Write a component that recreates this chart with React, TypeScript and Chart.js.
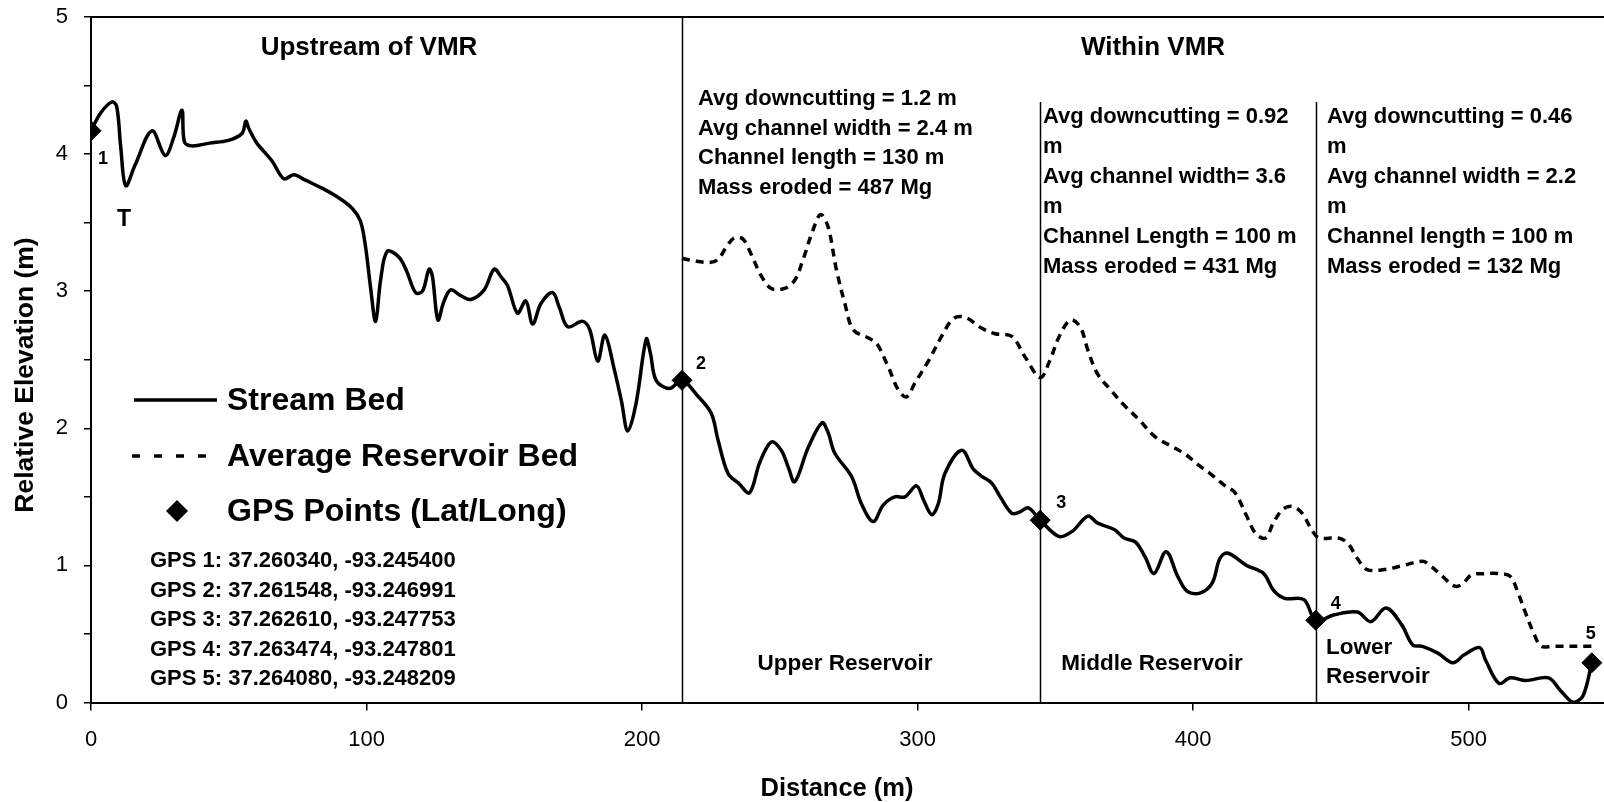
import React, { useEffect, useRef } from "react";
import { Chart, registerables } from "chart.js";

Chart.register(...registerables);

const FONT = "'Liberation Sans', Arial, sans-serif";

const streamX = [0, 3.5, 7.5, 9.3, 10.8, 12.6, 16, 22.1, 26.9, 30, 33, 33.9, 36.6, 43, 49.9, 54.8, 56.2, 57.2, 60.2, 65.7, 70, 73.6, 77.8, 84, 90, 95, 97.8, 99.6, 101.5, 103.3, 105.1, 107.5, 111.7, 114.5, 117.8, 120.3, 122.7, 123.9, 125.9, 128, 130.5, 134, 137.8, 142.7, 146.3, 149, 151.2, 154.8, 157.8, 160.3, 163.3, 167.5, 170, 173, 178.4, 181, 183.9, 186.5, 189.9, 192.5, 194.8, 197.8, 201.5, 203, 205.1, 209.9, 214.5, 220, 225.1, 227.5, 231.2, 235, 239, 242.7, 246.9, 250.5, 253, 255.4, 260.3, 265.3, 267.5, 269.9, 276, 279.6, 283.9, 287.5, 291.7, 295.4, 299.6, 302.1, 305.1, 307.5, 309.9, 316, 320.3, 323.3, 326.9, 330, 334.2, 337.2, 340.2, 344.5, 351.4, 356.2, 361.8, 365.2, 371.5, 374.9, 379.1, 382.6, 385.8, 390.2, 394.4, 397.9, 402.7, 406.9, 409.7, 412.4, 419.4, 425.6, 429.1, 433.2, 440.2, 444.5, 451.3, 459.6, 464.5, 470, 475.6, 479.7, 483.2, 488.8, 494.3, 498.5, 504, 506.1, 511, 515.1, 520.7, 529, 533.2, 538, 541.5, 544.7];
const streamY = [4.17, 4.3, 4.38, 4.35, 4.05, 3.77, 3.92, 4.17, 3.99, 4.12, 4.32, 4.09, 4.06, 4.08, 4.1, 4.15, 4.24, 4.19, 4.08, 3.95, 3.82, 3.85, 3.81, 3.75, 3.68, 3.6, 3.51, 3.33, 3.02, 2.78, 3.08, 3.29, 3.25, 3.15, 2.99, 3.0, 3.16, 3.11, 2.79, 2.92, 3.01, 2.97, 2.94, 3.01, 3.16, 3.1, 3.04, 2.84, 2.93, 2.76, 2.91, 2.99, 2.88, 2.74, 2.78, 2.72, 2.49, 2.68, 2.43, 2.2, 1.98, 2.18, 2.65, 2.55, 2.35, 2.29, 2.35, 2.24, 2.11, 1.92, 1.67, 1.6, 1.53, 1.75, 1.9, 1.84, 1.72, 1.61, 1.86, 2.04, 1.97, 1.82, 1.65, 1.45, 1.32, 1.44, 1.5, 1.5, 1.58, 1.48, 1.37, 1.45, 1.67, 1.84, 1.7, 1.65, 1.6, 1.5, 1.38, 1.39, 1.42, 1.33, 1.21, 1.25, 1.36, 1.31, 1.26, 1.2, 1.17, 1.06, 0.94, 1.1, 0.92, 0.81, 0.8, 0.87, 1.05, 1.09, 1.0, 0.94, 0.82, 0.76, 0.75, 0.6, 0.64, 0.66, 0.59, 0.69, 0.57, 0.42, 0.41, 0.36, 0.29, 0.35, 0.4, 0.31, 0.14, 0.18, 0.16, 0.18, 0.09, 0.0, 0.05, 0.29];

const reservoirX = [214.5, 219, 224.5, 227.5, 230.5, 233.5, 236.6, 239.6, 243.3, 246.9, 251.7, 255.4, 258.4, 262.1, 264.8, 267.5, 270.5, 273.6, 276.6, 282, 285.1, 289.3, 293, 296, 299, 303.9, 308.7, 313, 317.2, 323.3, 328.1, 334.2, 339, 344.5, 347.9, 351.4, 355.5, 359, 361.8, 365.2, 370.1, 374.9, 380.5, 386.1, 393, 397.2, 402.7, 406.2, 411, 415.2, 419.4, 422.8, 426.3, 429.1, 432.6, 436.1, 439.6, 443, 445.7, 452.7, 456.2, 459.6, 463.1, 469.4, 476.3, 483.2, 486, 490.5, 494.7, 497.5, 501, 505.8, 511, 515.1, 517.9, 520.7, 523.5, 526.3, 530.4, 544.9];
const reservoirY = [3.24, 3.22, 3.21, 3.23, 3.32, 3.39, 3.38, 3.27, 3.11, 3.02, 3.02, 3.08, 3.23, 3.45, 3.56, 3.47, 3.16, 2.91, 2.72, 2.66, 2.62, 2.45, 2.28, 2.23, 2.33, 2.49, 2.67, 2.8, 2.81, 2.73, 2.69, 2.67, 2.52, 2.37, 2.49, 2.67, 2.79, 2.74, 2.57, 2.4, 2.28, 2.17, 2.06, 1.94, 1.86, 1.81, 1.72, 1.67, 1.59, 1.53, 1.36, 1.23, 1.2, 1.31, 1.41, 1.43, 1.38, 1.26, 1.2, 1.2, 1.16, 1.05, 0.97, 0.97, 1.0, 1.03, 1.0, 0.92, 0.85, 0.86, 0.93, 0.94, 0.94, 0.92, 0.8, 0.65, 0.51, 0.41, 0.41, 0.41];

const gpsX = [0, 214.5, 344.5, 444.5, 544.7];
const gpsY = [4.17, 2.35, 1.33, 0.6, 0.29];
const gpsLabels = ["1", "2", "3", "4", "5"];

const dividerX = [214.5, 344.5, 444.5];
const dividerTop = [5, 4.38, 4.38];

const gpsCoords = [
  "GPS 1: 37.260340, -93.245400",
  "GPS 2: 37.261548, -93.246991",
  "GPS 3: 37.262610, -93.247753",
  "GPS 4: 37.263474, -93.247801",
  "GPS 5: 37.264080, -93.248209",
];

const block1 = ["Avg downcutting = 1.2 m", "Avg channel width = 2.4 m", "Channel length = 130 m", "Mass eroded = 487 Mg"];
const block2 = ["Avg downcutting = 0.92", "m", "Avg channel width= 3.6", "m", "Channel Length = 100 m", "Mass eroded = 431 Mg"];
const block3 = ["Avg downcutting = 0.46", "m", "Avg channel width = 2.2", "m", "Channel length = 100 m", "Mass eroded = 132 Mg"];

const zip = (xs: number[], ys: number[]) => xs.map((x, i) => ({ x, y: ys[i] }));

const overlay = {
  id: "overlay",
  beforeDatasetsDraw(chart: any) {
    const ctx = chart.ctx;
    const xs = chart.scales.x;
    const ys = chart.scales.y;
    const ca = chart.chartArea;
    ctx.save();
    ctx.strokeStyle = "#000";
    ctx.lineWidth = 2;
    ctx.beginPath();
    ctx.moveTo(ca.left, ca.top);
    ctx.lineTo(chart.width, ca.top);
    ctx.stroke();
    ctx.lineWidth = 1.5;
    dividerX.forEach((dx, i) => {
      const px = Math.round(xs.getPixelForValue(dx)) + 0.5;
      ctx.beginPath();
      ctx.moveTo(px, ys.getPixelForValue(0));
      ctx.lineTo(px, ys.getPixelForValue(dividerTop[i]));
      ctx.stroke();
    });
    ctx.restore();
  },
  afterDraw(chart: any) {
    const ctx = chart.ctx;
    const xs = chart.scales.x;
    const ys = chart.scales.y;
    ctx.save();
    ctx.fillStyle = "#000";
    ctx.strokeStyle = "#000";
    ctx.textBaseline = "alphabetic";

    // region titles
    ctx.font = `bold 26px ${FONT}`;
    ctx.textAlign = "center";
    ctx.fillText("Upstream of VMR", 369, 55);
    ctx.fillText("Within VMR", 1153, 55);

    // stats blocks
    ctx.font = `bold 22px ${FONT}`;
    ctx.textAlign = "left";
    block1.forEach((t, i) => ctx.fillText(t, 698, 105 + i * 29.5));
    block2.forEach((t, i) => ctx.fillText(t, 1043, 123 + i * 30));
    block3.forEach((t, i) => ctx.fillText(t, 1327, 123 + i * 30));

    // reservoir labels
    ctx.font = `bold 22.5px ${FONT}`;
    ctx.textAlign = "center";
    ctx.fillText("Upper Reservoir", 845, 670);
    ctx.fillText("Middle Reservoir", 1152, 670);
    ctx.textAlign = "left";
    ctx.fillText("Lower", 1326, 654);
    ctx.fillText("Reservoir", 1326, 683);

    // gps point numbers
    ctx.font = `bold 18px ${FONT}`;
    ctx.textAlign = "center";
    ctx.textBaseline = "middle";
    const offs = [[12, 28], [19, -16], [21, -17], [20, -16], [-1, -29]];
    gpsX.forEach((gx, i) => {
      const px = xs.getPixelForValue(gx);
      const py = ys.getPixelForValue(gpsY[i]);
      ctx.fillText(gpsLabels[i], px + offs[i][0], py + offs[i][1]);
    });
    ctx.font = `bold 23px ${FONT}`;
    ctx.fillText("T", 124, 220);

    // legend
    ctx.lineWidth = 3.5;
    ctx.beginPath();
    ctx.moveTo(134, 400);
    ctx.lineTo(217, 400);
    ctx.stroke();
    ctx.setLineDash([8, 14]);
    ctx.beginPath();
    ctx.moveTo(132, 456);
    ctx.lineTo(217, 456);
    ctx.stroke();
    ctx.setLineDash([]);
    ctx.beginPath();
    ctx.moveTo(177, 500);
    ctx.lineTo(188, 511);
    ctx.lineTo(177, 522);
    ctx.lineTo(166, 511);
    ctx.closePath();
    ctx.fill();
    ctx.font = `bold 32px ${FONT}`;
    ctx.textAlign = "left";
    ctx.textBaseline = "alphabetic";
    ctx.fillText("Stream Bed", 227, 410);
    ctx.fillText("Average Reservoir Bed", 227, 466);
    ctx.fillText("GPS Points (Lat/Long)", 227, 521);

    ctx.font = `bold 22px ${FONT}`;
    gpsCoords.forEach((t, i) => ctx.fillText(t, 150, 567 + i * 29.5));

    // axis titles
    ctx.font = `bold 25.5px ${FONT}`;
    ctx.textAlign = "center";
    ctx.fillText("Distance (m)", 837, 796);
    ctx.save();
    ctx.translate(33, 375);
    ctx.rotate(-Math.PI / 2);
    ctx.font = `bold 26.5px ${FONT}`;
    ctx.fillText("Relative Elevation (m)", 0, 0);
    ctx.restore();

    ctx.restore();
  },
};

export default function App() {
  const ref = useRef<HTMLCanvasElement | null>(null);
  useEffect(() => {
    if (!ref.current) return;
    const chart = new Chart(ref.current, {
      type: "scatter",
      data: {
        datasets: [
          {
            label: "Stream Bed",
            data: zip(streamX, streamY),
            showLine: true,
            borderColor: "#000",
            borderWidth: 3.5,
            pointRadius: 0,
            tension: 0.35,
            order: 2,
          },
          {
            label: "Average Reservoir Bed",
            data: zip(reservoirX, reservoirY),
            showLine: true,
            borderColor: "#000",
            borderWidth: 3.5,
            borderDash: [8, 6],
            pointRadius: 0,
            tension: 0.35,
            order: 3,
          },
          {
            label: "GPS Points (Lat/Long)",
            data: zip(gpsX, gpsY),
            showLine: false,
            pointStyle: "rectRot",
            pointRadius: 10,
            backgroundColor: "#000",
            borderColor: "#000",
            borderWidth: 1,
            order: 1,
          },
        ],
      },
      options: {
        animation: false,
        responsive: false,
        devicePixelRatio: 1,
        layout: { padding: { left: 0, top: 17, right: 16, bottom: 0 } },
        plugins: { legend: { display: false }, tooltip: { enabled: false } },
        scales: {
          x: {
            type: "linear",
            min: 0,
            max: 560,
            border: { display: true, color: "#000", width: 2 },
            grid: { drawOnChartArea: false, drawTicks: true, tickLength: 8, color: "#000", lineWidth: 1.5 },
            ticks: { stepSize: 100, includeBounds: false, color: "#000", font: { family: FONT, size: 22 }, padding: 16 },
            afterFit: (s: any) => {
              s.height = 99.5;
              s.paddingLeft = 0;
              s.paddingRight = 0;
            },
          },
          y: {
            type: "linear",
            min: 0,
            max: 5,
            border: { display: true, color: "#000", width: 2 },
            grid: { drawOnChartArea: false, drawTicks: true, tickLength: 7, color: "#000", lineWidth: 1.5 },
            ticks: {
              stepSize: 0.5,
              color: "#000",
              font: { family: FONT, size: 22 },
              padding: 16,
              callback: (v: any) => (Number(v) % 1 === 0 ? String(v) : ""),
            },
            afterFit: (s: any) => {
              s.width = 91;
              s.paddingTop = 0;
              s.paddingBottom = 0;
            },
          },
        },
      },
      plugins: [overlay],
    });
    return () => chart.destroy();
  }, []);
  return (
    <div style={{ position: "fixed", left: 0, top: 0, width: 1604, height: 802, overflow: "hidden", background: "#fff" }}>
      <canvas ref={ref} width={1650} height={802} style={{ display: "block", width: 1650, height: 802 }} />
    </div>
  );
}
